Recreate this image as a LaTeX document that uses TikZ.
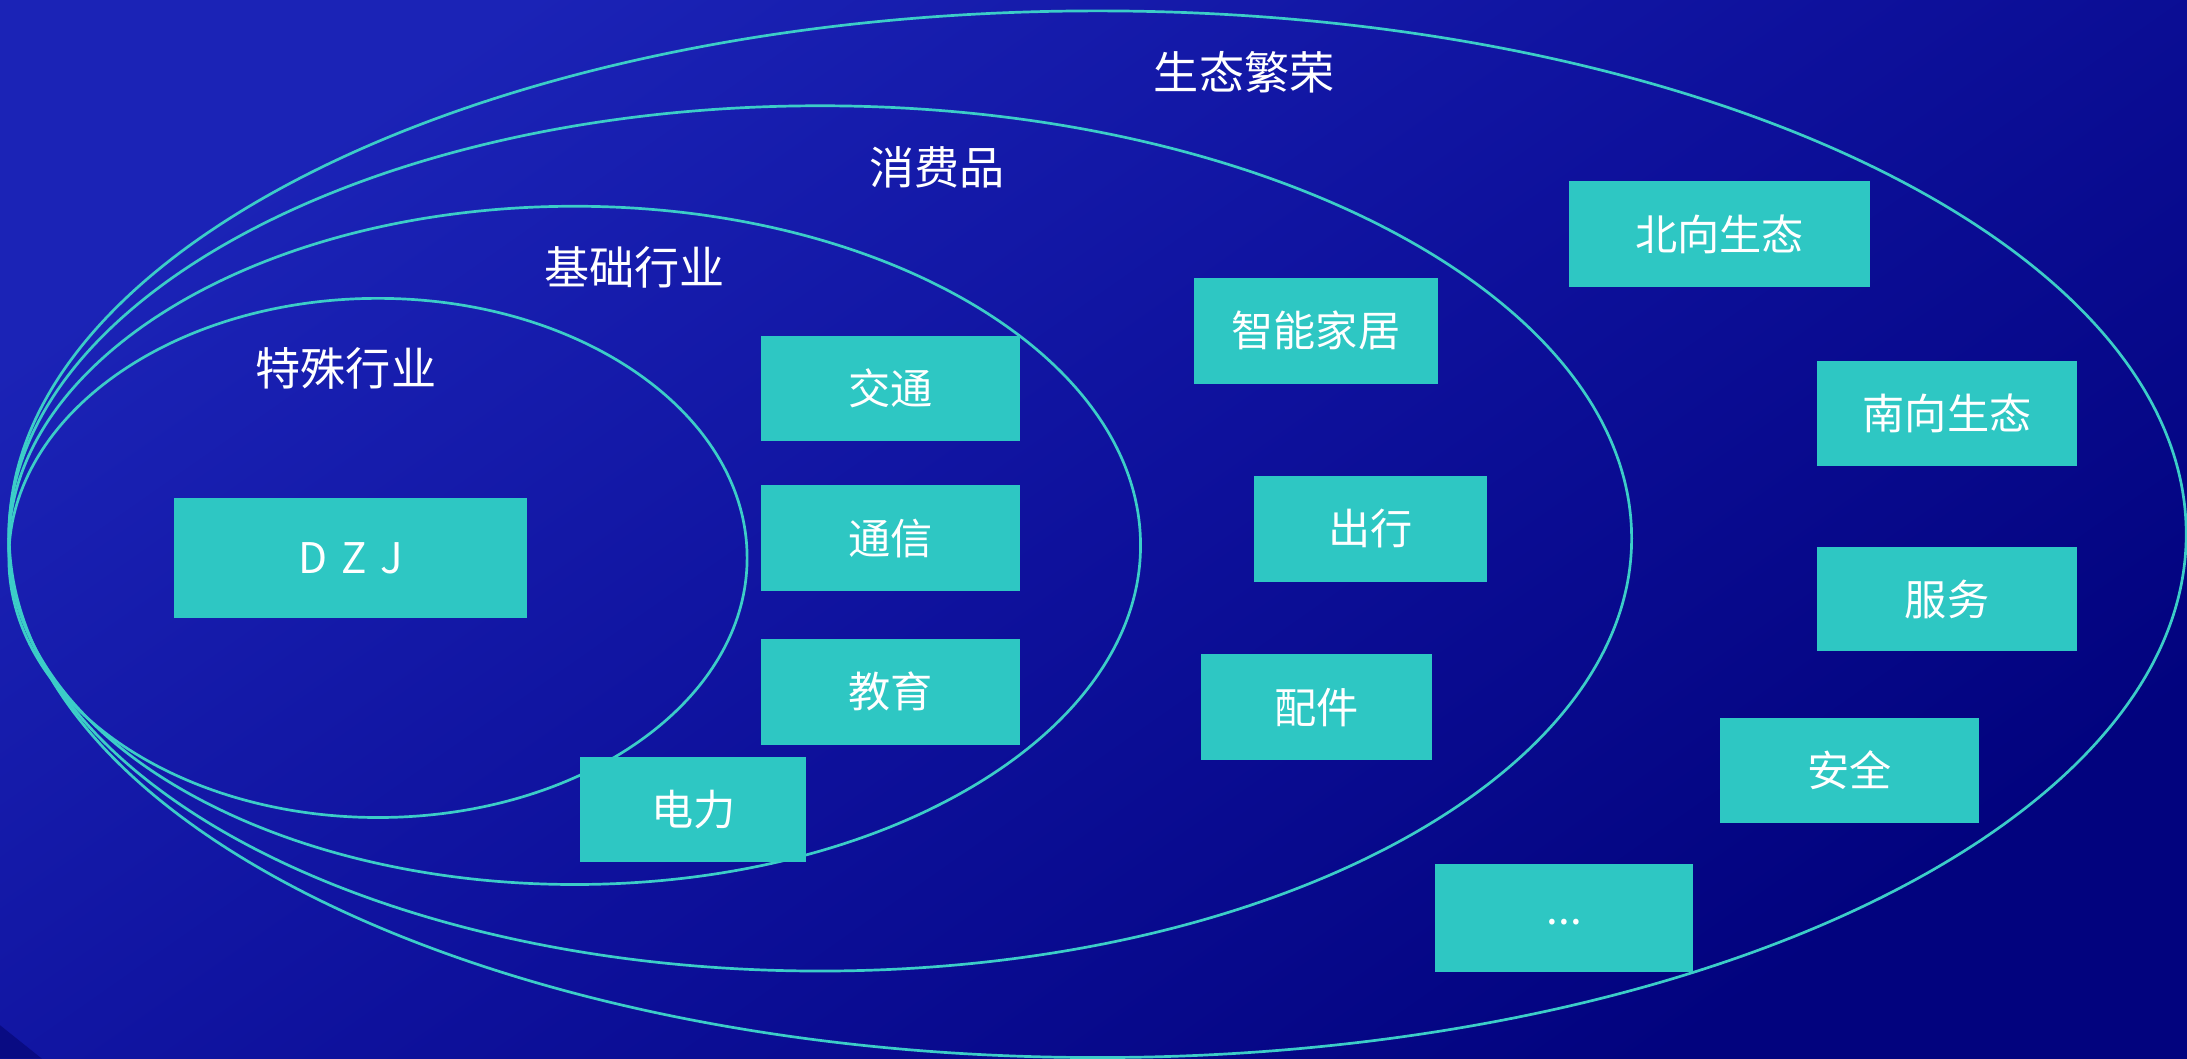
\documentclass[tikz,border=0pt]{standalone}
\usepackage{fontspec}
\setmainfont{Noto Sans CJK SC}
\usetikzlibrary{shapes.geometric}
\definecolor{bgA}{HTML}{1B23B6}
\definecolor{bgB}{HTML}{0E119C}
\definecolor{bgC}{HTML}{02037E}
\definecolor{teal}{HTML}{2EC7C3}
\definecolor{ringc}{HTML}{3CCDC8}
\tikzset{
  ring/.style={draw=ringc, line width=0.55pt, ellipse, inner sep=0pt, fill=none},
  tbox/.style={fill=teal, draw=none, inner sep=0pt, text=white, font=\fontsize{8.6pt}{10pt}\selectfont},
  lab/.style={text=white, inner sep=0pt, font=\fontsize{9.2pt}{11pt}\selectfont}
}
\begin{document}
\begin{tikzpicture}[x=0.01cm, y=-0.01cm]
\useasboundingbox (0,0) rectangle (1568,759);
\shade[shading=axis, top color=bgA, bottom color=bgC, middle color=bgB, shading angle=35] (0,0) rectangle (1568,759);
\fill[bgC!80!black, opacity=0.5] (0,735) -- (30,759) -- (0,759) -- cycle;
% rings
\node[ring, minimum width=15.60cm, minimum height=7.50cm] (eco) at (787,383) {};
\node[ring, minimum width=11.63cm, minimum height=6.20cm] (cons) at (588,386) {};
\node[ring, minimum width=8.11cm, minimum height=4.86cm] (base) at (412,391) {};
\node[ring, minimum width=5.29cm, minimum height=3.72cm] (spec) at (271,400) {};
% labels
\node[lab] (leco) at (892,52) {生态繁荣};
\node[lab] (lcons) at (672,120) {消费品};
\node[lab] (lbase) at (455,192) {基础行业};
\node[lab] (lspec) at (248,264) {特殊行业};
% boxes
\node[tbox, minimum width=2.53cm, minimum height=0.86cm] (dzj) at (251.5,400) {D\hspace{0.32em}Z\hspace{0.32em}J};
\node[tbox, minimum width=1.85cm, minimum height=0.75cm] (jt) at (638.5,278.5) {交通};
\node[tbox, minimum width=1.85cm, minimum height=0.76cm] (tx) at (638.5,386) {通信};
\node[tbox, minimum width=1.85cm, minimum height=0.76cm] (jy) at (638.5,496) {教育};
\node[tbox, minimum width=1.62cm, minimum height=0.75cm] (dl) at (497,580.5) {电力};
\node[tbox, minimum width=1.75cm, minimum height=0.76cm] (znjj) at (943.5,237) {智能家居};
\node[tbox, minimum width=1.67cm, minimum height=0.76cm] (cx) at (982.5,379) {出行};
\node[tbox, minimum width=1.66cm, minimum height=0.76cm] (pj) at (944,507) {配件};
\node[tbox, minimum width=2.16cm, minimum height=0.76cm] (bx) at (1233,168) {北向生态};
\node[tbox, minimum width=1.86cm, minimum height=0.75cm] (nx) at (1396,296.5) {南向生态};
\node[tbox, minimum width=1.86cm, minimum height=0.75cm] (fw) at (1396,429.5) {服务};
\node[tbox, minimum width=1.86cm, minimum height=0.75cm] (aq) at (1326,552.5) {安全};
\node[tbox, minimum width=1.85cm, minimum height=0.77cm] (more) at (1121.5,658) {\raisebox{-0.6ex}{...}};
\end{tikzpicture}
\end{document}
